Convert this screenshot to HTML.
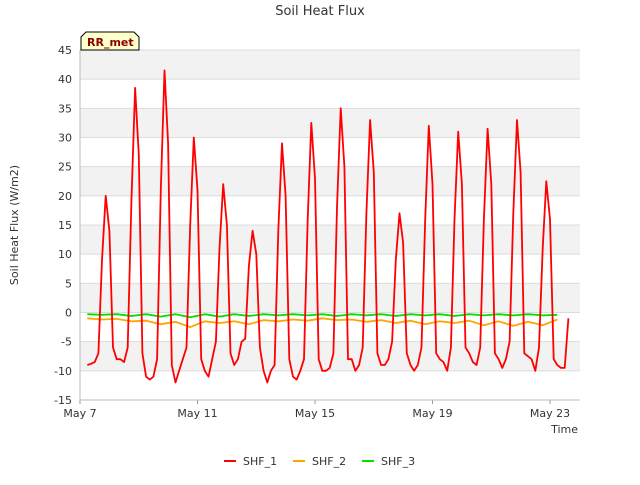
<!DOCTYPE html>
<html><head><meta charset="utf-8"><style>
body{margin:0;background:#fff;font-family:"Liberation Sans","DejaVu Sans",sans-serif;}
svg text{font-family:"DejaVu Sans","Liberation Sans",sans-serif;fill:#333;}
</style></head><body>
<svg id="c" width="640" height="480"></svg>
<script>
const dayTicks=[0,4,8,12,16];
const dayLabels=["May 7","May 11","May 15","May 19","May 23"];
const yTicks=[-15,-10,-5,0,5,10,15,20,25,30,35,40,45];
const shf1Start=0.25, shf1Step=0.125;
const shf1=[
-9,-8.8,-8.5,-7,9,20,14,-6,
-8,-8,-8.5,-6,19,38.5,27,-7,
-11,-11.5,-11,-8,21,41.5,29,-9,
-12,-10,-8,-6,15,30,21,-8,
-10,-11,-8,-5,11,22,15,-7,
-9,-8,-5,-4.5,8,14,10,-6,
-10,-12,-10,-9,14,29,20,-8,
-11,-11.5,-10,-8,16,32.5,23,-8,
-10,-10,-9.5,-7,18,35,25,-8,
-8,-10,-9,-6,17,33,24,-7,
-9,-9,-8,-5,9,17,12,-7,
-9,-10,-9,-6,16,32,22,-7,
-8,-8.5,-10,-6,16,31,22,-6,
-7,-8.5,-9,-6,16,31.5,22,-7,
-8,-9.5,-8,-5,17,33,24,-7,
-7.5,-8,-10,-6,11,22.5,16,-8,
-9,-9.5,-9.5,-1];
const shf2Start=0.25, shf2Step=0.5;
const shf2=[-1,-1.2,-1.1,-1.5,-1.4,-2,-1.6,-2.5,-1.5,-1.8,-1.5,-2,-1.3,-1.5,-1.2,-1.4,-1,-1.3,-1.2,-1.6,-1.3,-1.8,-1.4,-2,-1.5,-1.8,-1.4,-2.2,-1.5,-2.3,-1.6,-2.2,-1.2];
const shf3Start=0.25, shf3Step=0.5;
const shf3=[-0.3,-0.4,-0.3,-0.6,-0.3,-0.7,-0.3,-0.8,-0.3,-0.7,-0.3,-0.6,-0.3,-0.5,-0.3,-0.5,-0.3,-0.6,-0.3,-0.5,-0.3,-0.6,-0.3,-0.5,-0.3,-0.6,-0.3,-0.5,-0.3,-0.5,-0.3,-0.5,-0.4];
const NS="http://www.w3.org/2000/svg";
const svg=document.getElementById('c');
const L=80,R=580,T=50,B=400;
const xS=d=>L+d*(550-80)/16;
const yS=v=>T+(45-v)*(B-T)/60;
function mk(t,a,p){const e=document.createElementNS(NS,t);for(const k in a)e.setAttribute(k,a[k]);(p||svg).appendChild(e);return e;}
mk('rect',{x:L,y:T,width:R-L,height:B-T,fill:'#fff'});
for(let v=40;v>=-15;v-=10){const r=mk('rect',{x:L,y:yS(v+5),width:R-L,height:yS(v)-yS(v+5),fill:'#f2f2f2'});

}
yTicks.forEach(v=>{const g=mk('line',{x1:L,x2:R,y1:yS(v),y2:yS(v),stroke:'#dcdcdc','stroke-width':1});


const t=mk('text',{x:L-8,y:yS(v)+4,'text-anchor':'end','font-size':11});t.textContent=v;

});
dayTicks.forEach((d,i)=>{mk('line',{x1:xS(d),x2:xS(d),y1:B,y2:B+4,stroke:'#999'});
const t=mk('text',{x:xS(d),y:B+17,'text-anchor':'middle','font-size':11});t.textContent=dayLabels[i];

});
mk('line',{x1:L,x2:L,y1:T,y2:B,stroke:'#bbb'});
mk('line',{x1:L,x2:R,y1:B,y2:B,stroke:'#bbb'});
function series(arr,st,sp,col,name){let d='';arr.forEach((v,i)=>{d+=(i?'L':'M')+xS(st+i*sp).toFixed(1)+','+yS(v).toFixed(1);});
const p=mk('path',{d:d,fill:'none',stroke:col,'stroke-width':1.8,'stroke-linejoin':'round'});

}
series(shf2,shf2Start,shf2Step,'#ffa500','shf-2-line');
series(shf3,shf3Start,shf3Step,'#00e000','shf-3-line');
series(shf1,shf1Start,shf1Step,'#ff0000','shf-1-line');
let t=mk('text',{x:320,y:15,'text-anchor':'middle','font-size':13});t.textContent='Soil Heat Flux';

t=mk('text',{x:578,y:433,'text-anchor':'end','font-size':11});t.textContent='Time';

t=mk('text',{x:18,y:225,'text-anchor':'middle','font-size':11,transform:'rotate(-90 18 225)'});t.textContent='Soil Heat Flux (W/m2)';

const bx=mk('path',{d:'M81,50 L81,37 L86,32 L134,32 L139,37 L139,50 Z',fill:'#ffffcc',stroke:'#000','stroke-width':1});

t=mk('text',{x:87,y:46,'font-size':11,'font-weight':'bold'});t.textContent='RR_met';t.style.fill='#8b0000';

[['SHF_1','#ff0000',224],['SHF_2','#ffa500',293],['SHF_3','#00e000',362]].forEach(([n,c,x])=>{
const g=mk('g',{});


mk('line',{x1:x,x2:x+12,y1:461,y2:461,stroke:c,'stroke-width':2},g);
const tt=mk('text',{x:x+19,y:465,'font-size':11},g);tt.textContent=n;});
</script>
</body></html>
